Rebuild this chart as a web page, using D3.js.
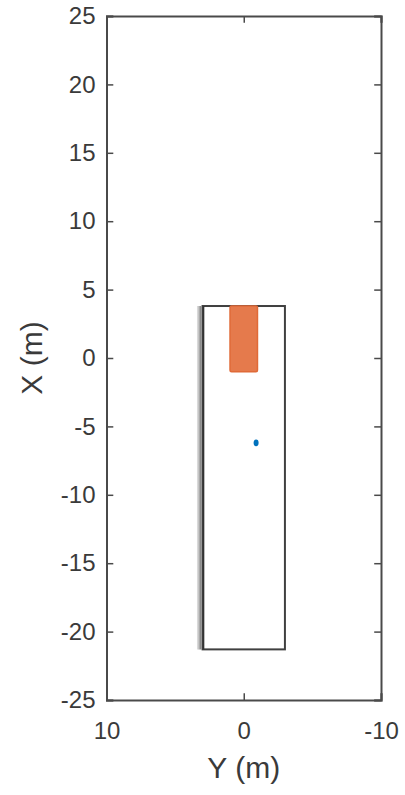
<!DOCTYPE html>
<html><head><meta charset="utf-8">
<script src="https://cdn.jsdelivr.net/npm/d3@7"></script>
<style>body{margin:0;background:#fff;}svg{display:block;}</style>
</head><body>
<script>
// Data
const xTickValues = [10, 0, -10];            // horizontal axis: Y (m), reversed
const yTickValues = [-25, -20, -15, -10, -5, 0, 5, 10, 15, 20, 25]; // vertical axis: X (m)
const xDomain = [10, -10];
const yDomain = [-25, 25];
// lane region (Y left, Y right, X bottom, X top)
const laneY = [3, -3];
const laneX = [-21.3, 3.8];
// blurred boundary strokes on the left side
const boundaryY = [3.35, 3.25, 3.15];
const boundaryShade = ["#d9d9d9", "#b3b3b3", "#8c8c8c"];
// vehicle patch
const vehicleY = [1, -1];
const vehicleX = [-1, 3.8];
// detection point
const detY = [-0.9];
const detX = [-6.2];

const W = 405, H = 795;
const m = {left: 106.5, right: 381, top: 16, bottom: 700};
const svg = d3.select("body").append("svg").attr("width", W).attr("height", H);
const x = d3.scaleLinear().domain(xDomain).range([m.left, m.right]);
const y = d3.scaleLinear().domain(yDomain).range([m.bottom, m.top]);
const axisColor = "#4a4a4a", textColor = "#3a3a3a";
const font = "'Liberation Sans', Arial, sans-serif";
const fmt = d => String(d);

// background
svg.append("rect").attr("x", m.left).attr("y", m.top).attr("width", m.right - m.left).attr("height", m.bottom - m.top).attr("fill", "#fff");

// boundary blur strokes
boundaryY.forEach((v, i) => {
  svg.append("line").attr("x1", x(v)).attr("x2", x(v)).attr("y1", y(laneX[0])).attr("y2", y(laneX[1]))
    .attr("stroke", boundaryShade[i]).attr("stroke-width", 1.6);
});
// lane box
svg.append("rect").attr("x", x(laneY[0])).attr("y", y(laneX[1]))
  .attr("width", x(laneY[1]) - x(laneY[0])).attr("height", y(laneX[0]) - y(laneX[1]))
  .attr("fill", "none").attr("stroke", "#404040").attr("stroke-width", 2);
svg.append("line").attr("x1", x(laneY[0]) + 1).attr("x2", x(laneY[0]) + 1).attr("y1", y(laneX[0])).attr("y2", y(laneX[1]))
  .attr("stroke", "#333").attr("stroke-width", 1.5);

// vehicle
svg.append("rect").attr("x", x(vehicleY[0])).attr("y", y(vehicleX[1]))
  .attr("width", x(vehicleY[1]) - x(vehicleY[0])).attr("height", y(vehicleX[0]) - y(vehicleX[1]))
  .attr("rx", 1.5).attr("fill", "#e57a4c").attr("stroke", "#e06a38").attr("stroke-width", 1.5);

// detection
svg.selectAll(".det").data(detY.map((d, i) => ({yy: d, xx: detX[i]}))).enter()
  .append("ellipse").attr("cx", d => x(d.yy)).attr("cy", d => y(d.xx))
  .attr("rx", 2.5).attr("ry", 3.4).attr("fill", "#0072bd");

// axes
const tickLen = 6.8;
const gB = svg.append("g").attr("transform", `translate(0,${m.bottom})`)
  .call(d3.axisBottom(x).tickValues(xTickValues).tickSize(-tickLen).tickPadding(22).tickFormat(fmt));
const gT = svg.append("g").attr("transform", `translate(0,${m.top})`)
  .call(d3.axisTop(x).tickValues(xTickValues).tickSize(-tickLen).tickFormat(""));
const gL = svg.append("g").attr("transform", `translate(${m.left},0)`)
  .call(d3.axisLeft(y).tickValues(yTickValues).tickSize(-tickLen).tickPadding(11).tickFormat(fmt));
const gR = svg.append("g").attr("transform", `translate(${m.right},0)`)
  .call(d3.axisRight(y).tickValues(yTickValues).tickSize(-tickLen).tickFormat(""));
[gB, gT, gL, gR].forEach(g => {
  g.select(".domain").attr("stroke", axisColor).attr("stroke-width", 2);
  g.selectAll(".tick line").attr("stroke", axisColor).attr("stroke-width", 1.5);
  g.selectAll("text").attr("fill", textColor).style("font-family", font).style("font-size", "24px");
});
gB.selectAll("text").attr("dy", "0.71em");

// labels
svg.append("text").attr("x", (m.left + m.right) / 2).attr("y", 778).attr("text-anchor", "middle")
  .attr("fill", textColor).style("font-family", font).style("font-size", "30px").text("Y (m)");
svg.append("text").attr("transform", `translate(42,${(m.top + m.bottom) / 2}) rotate(-90)`).attr("text-anchor", "middle")
  .attr("fill", textColor).style("font-family", font).style("font-size", "30px").text("X (m)");
</script>
</body></html>
